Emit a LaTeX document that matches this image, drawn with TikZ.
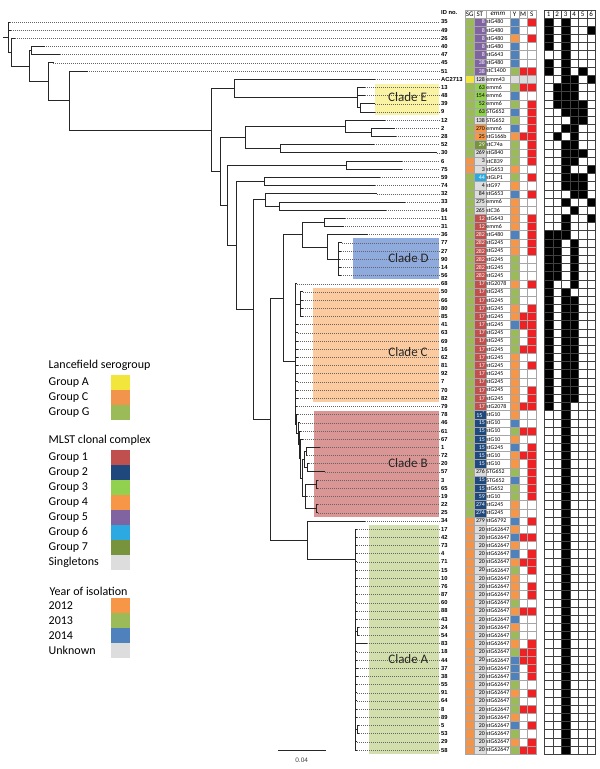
\documentclass[tikz,border=0pt]{standalone}
\usepackage{fontspec}
\setmainfont{Carlito}
\newfontfamily\arialf{Liberation Sans}
% serogroup, clonal complex and year colours
\definecolor{sgA}{HTML}{F2E53C}
\definecolor{sgC}{HTML}{F0954B}
\definecolor{sgG}{HTML}{9BBB59}
\definecolor{g1}{HTML}{C0504D}
\definecolor{g2}{HTML}{1F497D}
\definecolor{g3}{HTML}{92D050}
\definecolor{g4}{HTML}{F79646}
\definecolor{g5}{HTML}{8064A2}
\definecolor{g6}{HTML}{2DA9E1}
\definecolor{g7}{HTML}{77933C}
\definecolor{gs}{HTML}{DDDDDD}
\colorlet{tg1}{white}\colorlet{tg2}{white}\colorlet{tg3}{black}\colorlet{tg4}{black}
\colorlet{tg5}{white}\colorlet{tg6}{white}\colorlet{tg7}{white}\colorlet{tgs}{black}
\definecolor{y12}{HTML}{F79646}
\definecolor{y13}{HTML}{9BBB59}
\definecolor{y14}{HTML}{4F81BD}
\definecolor{yu}{HTML}{DDDDDD}
\definecolor{msr}{HTML}{EE2224}
\colorlet{msw}{white}
\definecolor{msu}{HTML}{DDDDDD}
% clade shading
\definecolor{shE}{HTML}{FAF3A3}
\definecolor{shD}{HTML}{8FAADC}
\definecolor{shC}{HTML}{FBCA9E}
\definecolor{shB}{HTML}{D99694}
\definecolor{shA}{HTML}{D2DEAB}

\begin{document}
\begin{tikzpicture}[x=1pt, y=-1pt,
  br/.style={line width=0.9pt, black!85, line cap=rect},
  dotl/.style={black!60, line width=0.5pt, dash pattern=on 0.8pt off 1.2pt},
  idlab/.style={anchor=west, inner sep=1.5pt, font=\arialf\bfseries\fontsize{5.8}{6}\selectfont},
  clade/.style={inner sep=0pt, text=black!85, font=\fontsize{13}{15}\selectfont},
  cell/.style={draw=gray!70, line width=0.35pt, minimum height=8.18pt, inner sep=0pt},
  ctxt/.style={inner sep=0.7pt, font=\fontsize{5.9}{6}\selectfont},
  hcell/.style={cell, fill=white, font=\fontsize{7}{7}\selectfont},
  gcell/.style={draw=black!75, line width=0.35pt, minimum width=8.5pt, minimum height=8.18pt, inner sep=0pt},
  legt/.style={anchor=west, inner sep=0pt, font=\fontsize{12}{14}\selectfont},
  sw/.style={minimum width=19pt, minimum height=15pt, inner sep=0pt}]
  \useasboundingbox (0,0) rectangle (600,769);
  % clade boxes
  \fill[shE] (375,84) rectangle (439,114.5);
  \fill[shD] (352.7,237.7) rectangle (439,279.3);
  \fill[shC] (313.3,288) rectangle (439,402.3);
  \fill[shB] (314,410.5) rectangle (439,517);
  \fill[shA] (369.3,525) rectangle (439,754);
  % leaves, ids and dotted guides
  \foreach \id/\lx [count=\n] in {35/10, 49/10.7, 26/15, 40/44.3, 47/60, 45/53.3, 51/87.3,
      AC2713/375, 13/365, 48/365, 39/375, 9/375, 12/385, 2/394.3, 28/395.7, 52/374, 30/436.7,
      6/401.7, 75/401.7, 59/380, 74/375, 32/376.7, 33/405, 84/386, 11/345, 31/343.3, 36/367.3,
      77/342, 27/341, 90/340, 14/341, 56/341, 68/296.5, 50/303, 66/303, 80/303, 85/303,
      41/298, 63/298, 69/298, 16/298, 62/298, 81/298, 92/298, 7/298, 70/298, 82/298, 79/297,
      78/298, 46/299.5, 61/301, 67/302.5, 1/320, 72/307, 20/308.5, 57/325, 3/318, 65/318,
      19/307, 22/318, 25/318, 34/365, 17/357, 42/357, 73/357, 4/357, 71/357, 15/357, 10/357,
      76/357, 87/357, 60/357, 88/357, 43/357, 24/359, 54/359, 83/366.7, 18/357, 44/357,
      37/358, 38/358, 55/357, 91/357, 64/357, 8/357, 89/357, 5/359, 53/359, 29/357, 58/357} {
    \pgfmathsetmacro\yy{22+(\n-1)*8.18}
    \coordinate (l\id) at (\lx,\yy);
    \node[idlab] (id\id) at (439.5,\yy) {\id};
    \draw[dotl] (l\id) -- (id\id.west);
  }
  % internal nodes of the tree
  \coordinate (root0) at (3,37);
  \coordinate (root) at (8,37);
  \coordinate (a1) at (11.7,52.3);
  \coordinate (a2) at (29.3,66.2);
  \coordinate (a3) at (31,50.6);
  \coordinate (a4) at (48.3,81.6);
  \coordinate (a5) at (69,100.2);
  \coordinate (a6) at (211.7,130);
  \coordinate (a7) at (234,88.5);
  \coordinate (ce) at (357,97.7);
  \coordinate (ce2) at (360,107.9);
  \coordinate (a8) at (220,171.5);
  \coordinate (a9) at (245,137.6);
  \coordinate (a10) at (345,126.3);
  \coordinate (a11) at (371.7,132.4);
  \coordinate (a12) at (280,148.8);
  \coordinate (a13) at (227.7,205.4);
  \coordinate (a14) at (346.7,165.2);
  \coordinate (a15) at (236,245.6);
  \coordinate (a16) at (264,181.5);
  \coordinate (a17) at (253.3,309.6);
  \coordinate (a18) at (265,199.9);
  \coordinate (a19) at (279,206.1);
  \coordinate (a20) at (270,419.3);
  \coordinate (a21) at (283.3,298.2);
  \coordinate (a22) at (302.7,234.7);
  \coordinate (a23) at (324.3,222.4);
  \coordinate (a24) at (327.3,247);
  \coordinate (cd) at (338.3,259.2);
  \coordinate (cc) at (295.7,361.7);
  \coordinate (cc1) at (300,304.2);
  \coordinate (cb) at (296.7,424.2);
  \coordinate (cb1) at (298,433.8);
  \coordinate (cb2) at (299.3,444.8);
  \coordinate (cb3) at (300.6,458.6);
  \coordinate (cb4) at (302.5,478);
  \coordinate (cb5) at (304.5,459.6);
  \coordinate (cb7) at (306,451.4);
  \coordinate (cb8) at (307,467.8);
  \coordinate (cb6) at (305.5,496.4);
  \coordinate (cb9) at (316,484.2);
  \coordinate (cb10) at (316,508.7);
  \coordinate (a25) at (307.3,540.3);
  \coordinate (ca) at (355,559.6);
  \coordinate (ca1) at (357.5,631.4);
  \coordinate (ca2) at (357.5,729.6);
  % branches
  \draw[br] (root0) -- (root);
  \foreach \p/\c in {root/l35, root/l49, root/a1, a1/l26, a1/a2, a2/a3, a2/a4, a3/l40, a3/l47,
      a4/l45, a4/a5, a5/l51, a5/a6, a6/a7, a6/a8, a7/lAC2713, a7/ce, ce/l13, ce/l48, ce/ce2,
      ce2/l39, ce2/l9, a8/a9, a8/a13, a9/a10, a9/a12, a10/l12, a10/a11, a11/l2, a11/l28,
      a12/l52, a12/l30, a13/a14, a13/a15, a14/l6, a14/l75, a15/a16, a15/a17, a16/l59, a16/l74,
      a17/a18, a17/a20, a18/l32, a18/a19, a19/l33, a19/l84, a20/a21, a20/a25, a21/a22, a21/cc,
      a22/a23, a22/a24, a23/l11, a23/l31, a24/l36, a24/cd, cd/l77, cd/l27, cd/l90, cd/l14, cd/l56,
      cc/l68, cc/cc1, cc/l41, cc/l63, cc/l69, cc/l16, cc/l62, cc/l81, cc/l92, cc/l7, cc/l70,
      cc/l82, cc/l79, cc/cb, cc1/l50, cc1/l66, cc1/l80, cc1/l85, cb/l78, cb/cb1, cb1/l46, cb1/cb2,
      cb2/l61, cb2/cb3, cb3/l67, cb3/cb4, cb4/cb5, cb4/cb6, cb5/cb7, cb5/cb8, cb7/l1, cb7/l72,
      cb8/l20, cb8/l57, cb6/cb9, cb6/l19, cb6/cb10, cb9/l3, cb9/l65, cb10/l22, cb10/l25,
      a25/l34, a25/ca, ca/l17, ca/l42, ca/l73, ca/l4, ca/l71, ca/l15, ca/l10, ca/l76, ca/l87,
      ca/l60, ca/l88, ca/l43, ca/ca1, ca/l83, ca/l18, ca/l44, ca/l37, ca/l38, ca/l55, ca/l91,
      ca/l64, ca/l8, ca/l89, ca/ca2, ca/l29, ca/l58, ca1/l24, ca1/l54, ca2/l5, ca2/l53}
    \draw[br] (\p) |- (\c);
  % clade names
  \node[clade] (cladeE) at (407.5,97.5) {Clade E};
  \node[clade] (cladeD) at (408.5,258.3) {Clade D};
  \node[clade] (cladeC) at (408,351.7) {Clade C};
  \node[clade] (cladeB) at (408,463.3) {Clade B};
  \node[clade] (cladeA) at (408.3,659.3) {Clade A};
  % table header
  \node[idlab] (idhead) at (439.5,12.5) {ID no.};
  \node[hcell, minimum width=8.7pt] (h-sg) at (469.65,13.8) {SG};
  \node[hcell, minimum width=11.7pt] (h-st) at (479.85,13.8) {ST};
  \node[hcell, minimum width=24.3pt] (h-emm) at (497.85,13.8) {\textit{emm}};
  \node[hcell, minimum width=9pt] (h-y) at (514.5,13.8) {Y};
  \node[hcell, minimum width=8.3pt] (h-m) at (523.15,13.8) {M};
  \node[hcell, minimum width=8.7pt] (h-s) at (531.65,13.8) {S};
  \foreach \k in {1,...,6}
    \node[gcell, font=\fontsize{7}{7}\selectfont] (gh-\k) at ({544.3+(\k-0.5)*8.5},13.8) {\k};
  % table rows
  \foreach \sg/\st/\stc/\emm/\yr/\m/\s/\gr [count=\n] in {
      G/8/g5/stG480/y14/w/r/{1,3}, G/8/g5/stG480/y14/w/w/{1,3,6}, G/8/g5/stG480/y12/w/r/{1,3},
      G/8/g5/stG480/y14/w/w/{1,3}, G/8/g5/stG643/y14/w/w/{3}, G/38/g5/stG480/y14/w/w/{1,3},
      G/38/g5/stC1400/y13/r/r/{1,3,5}, A/128/gs/emm43/yu/u/u/{3,4,6}, G/63/g3/emm6/y13/r/r/{2,3,4},
      G/154/g3/emm6/y14/w/w/{2,3,4}, G/52/g3/emm6/y13/w/r/{2,3,4,5}, G/63/g3/STG652/y14/w/r/{3,4,5},
      G/138/gs/STG652/y13/w/r/{4,5}, G/270/g4/emm6/y14/w/r/{3,4}, G/25/g4/stG166b/y12/r/r/{2,4},
      G/29/g7/stC74a/y13/w/r/{3,4}, G/269/gs/stG840/y13/w/r/{3,4,5}, C/3/gs/stC839/y13/w/r/{3,4},
      C/3/gs/stG653/y12/w/w/{3,6}, G/44/g6/stGLP1/y13/w/r/{3,4,5}, G/4/gs/stG97/y12/w/w/{3,4,5},
      G/84/gs/stG653/y14/w/r/{4,5}, G/275/gs/emm6/y12/w/w/{3,6}, G/265/gs/stC36/y12/w/w/{4},
      G/12/g1/stG643/y12/w/r/{3,6}, G/12/g1/emm6/y12/w/r/{3}, G/282/g1/stG480/y14/w/r/{1,2,3},
      G/282/g1/stG245/y12/w/r/{1,2,4}, G/282/g1/stG245/y12/w/r/{1,2,4}, G/282/g1/stG245/y13/w/w/{1,2,4},
      G/282/g1/stG245/y13/w/w/{1,2,4}, G/282/g1/stG245/y13/w/w/{1,2,4}, G/17/g1/stG2078/y12/w/r/{1,4},
      G/17/g1/stG245/y13/w/w/{1,3}, G/17/g1/stG245/y13/w/w/{1,3,4}, G/17/g1/stG245/y12/w/r/{1,3,4},
      G/17/g1/stG245/y12/r/r/{1,3,4}, G/17/g1/stG245/y14/r/r/{1,3,4}, G/17/g1/stG245/y13/w/r/{1,3,4},
      G/17/g1/stG245/y13/w/r/{1,3,4}, G/17/g1/stG245/y13/r/r/{1,3,4}, G/17/g1/stG245/y12/w/w/{1,3,4},
      G/17/g1/stG245/y12/w/r/{1,3,4}, G/17/g1/stG245/y12/w/w/{1,3,4}, G/17/g1/stG245/y12/w/w/{1,3,4},
      G/17/g1/stG245/y12/w/r/{1,3,4}, G/17/g1/stG245/y12/w/r/{1,3,4}, G/17/g1/stG2078/y12/r/r/{1,3},
      G/15\textsuperscript{*}/g2/stG10/y12/w/w/{3}, G/15/g2/stG10/y14/w/w/{3}, G/15/g2/stG10/y13/r/r/{3},
      G/15/g2/stG10/y12/w/w/{3}, G/15/g2/stG245/y14/w/r/{3}, G/15/g2/stG10/y12/r/r/{3},
      G/15/g2/stG10/y12/w/r/{3}, G/276/gs/STG652/y13/w/r/{3}, G/15/g2/STG652/y14/w/r/{3},
      G/15/g2/stG652/y13/w/r/{3}, G/59/g2/stG10/y13/w/r/{3}, G/274/g2/stG245/y12/w/w/{3},
      G/274/g2/stG245/y12/w/w/{3}, C/279/gs/stG6792/y14/w/r/{3},
      C/20/gs/stG62647/y12/w/w/{3}, C/20/gs/stG62647/y14/r/r/{3}, C/20/gs/stG62647/y12/w/w/{3},
      C/20/gs/stG62647/y14/w/r/{3}, C/20/gs/stG62647/y12/r/r/{3}, C/20/gs/stG62647/y13/w/r/{3},
      C/20/gs/stG62647/y12/w/w/{3}, C/20/gs/stG62647/y12/w/r/{3}, C/20/gs/stG62647/y12/w/r/{3},
      C/20/gs/stG62647/y13/w/w/{3}, C/20/gs/stG62647/y12/r/r/{3}, C/20/gs/stG62647/y14/w/w/{3},
      C/20/gs/stG62647/y12/w/w/{3}, C/20/gs/stG62647/y13/w/w/{3}, C/20/gs/stG62647/y12/w/r/{3},
      C/20/gs/stG62647/y13/r/r/{3}, C/20/gs/stG62647/y14/r/r/{3}, C/20/gs/stG62647/y14/w/r/{3},
      C/20/gs/stG62647/y14/w/r/{3}, C/20/gs/stG62647/y13/w/w/{3}, C/20/gs/stG62647/y12/w/r/{3},
      C/20/gs/stG62647/y13/w/w/{3}, C/20/gs/stG62647/y13/r/r/{3}, C/20/gs/stG62647/y12/w/w/{3},
      C/20/gs/stG62647/y14/w/r/{3}, C/20/gs/stG62647/y13/w/w/{3}, C/20/gs/stG62647/y12/w/r/{3},
      C/20/gs/stG62647/y13/r/r/{3}} {
    \pgfmathsetmacro\yy{22+(\n-1)*8.18}
    \node[cell, fill=sg\sg, minimum width=8.7pt] (sg-\n) at (469.65,\yy) {};
    \node[cell, fill=\stc, minimum width=11.7pt] (st-\n) at (479.85,\yy) {};
    \node[ctxt, anchor=east, text=t\stc] (stt-\n) at (st-\n.east) {\st};
    \node[cell, fill=white, minimum width=24.3pt] (emm-\n) at (497.85,\yy) {};
    \node[ctxt, anchor=west] (emmt-\n) at (emm-\n.west) {\emm};
    \node[cell, fill=\yr, minimum width=9pt] (yr-\n) at (514.5,\yy) {};
    \node[cell, fill=ms\m, minimum width=8.3pt] (m-\n) at (523.15,\yy) {};
    \node[cell, fill=ms\s, minimum width=8.7pt] (s-\n) at (531.65,\yy) {};
    \foreach \k in {1,...,6}
      \node[gcell] (g-\n-\k) at ({544.3+(\k-0.5)*8.5},\yy) {};
    \foreach \c in \gr
      \node[gcell, fill=black] (gb-\n-\c) at ({544.3+(\c-0.5)*8.5},\yy) {};
  }
  % legend
  \node[legt] (lanc) at (48.5,365) {Lancefield serogroup};
  \foreach \t/\c [count=\i] in {Group A/sgA, Group C/sgC, Group G/sgG} {
    \node[legt] (lg-\i) at (48.5,367.5+\i*15) {\t};
    \node[sw, fill=\c] (lgs-\i) at (120.2,367.5+\i*15) {};
  }
  \node[legt] (mlst) at (48.5,440) {MLST clonal complex};
  \foreach \t/\c [count=\i] in {Group 1/g1, Group 2/g2, Group 3/g3, Group 4/g4, Group 5/g5,
      Group 6/g6, Group 7/g7, Singletons/gs} {
    \node[legt] (lm-\i) at (48.5,442.5+\i*15) {\t};
    \node[sw, fill=\c] (lms-\i) at (120.2,442.5+\i*15) {};
  }
  \node[legt] (year) at (49.5,591) {Year of isolation};
  \foreach \t/\c [count=\i] in {2012/y12, 2013/y13, 2014/y14, Unknown/yu} {
    \node[legt] (ly-\i) at (48.5,590.7+\i*15) {\t};
    \node[sw, fill=\c] (lys-\i) at (120.5,590.7+\i*15) {};
  }
  % scale bar
  \coordinate (sb1) at (278.3,750.7);
  \coordinate (sb2) at (325.7,750.7);
  \draw[br, line cap=butt] (sb1) -- (sb2);
  \node[inner sep=0pt, text=black!75, font=\arialf\fontsize{6.5}{7}\selectfont] (sbl) at (301.7,760.5) {0.04};
\end{tikzpicture}
\end{document}
